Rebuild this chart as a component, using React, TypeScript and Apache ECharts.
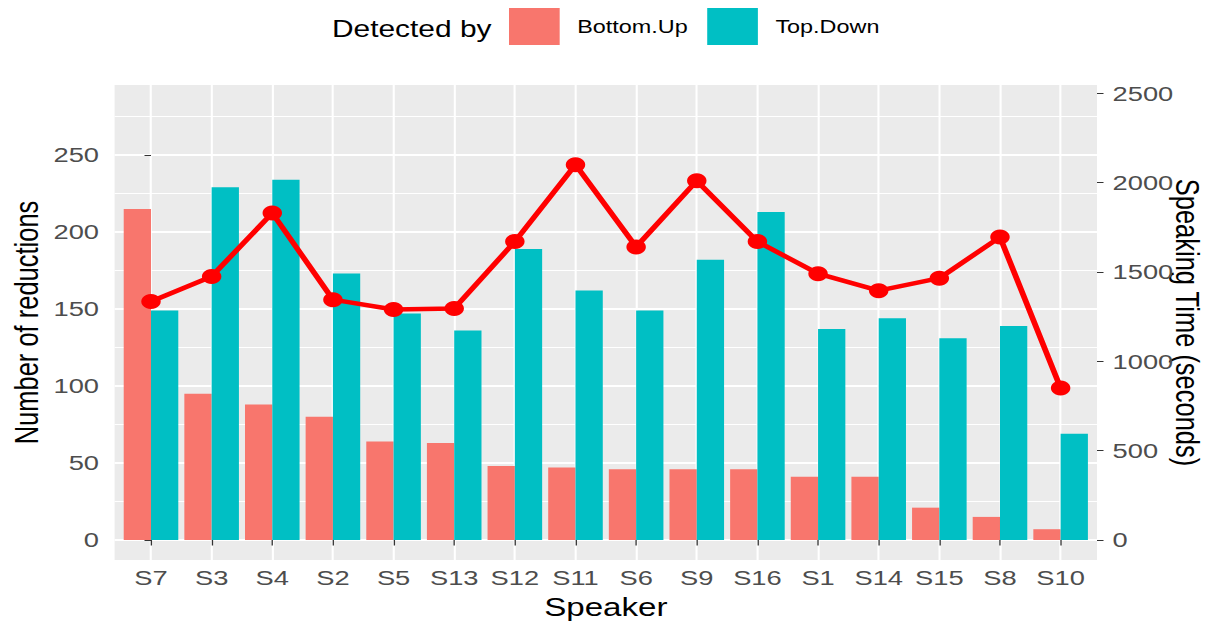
import React, { useEffect, useRef } from "react";
import * as echarts from "echarts";

const CATEGORIES = ["S7", "S3", "S4", "S2", "S5", "S13", "S12", "S11", "S6", "S9", "S16", "S1", "S14", "S15", "S8", "S10"];
const BOTTOM_UP = [215, 95, 88, 80, 64, 63, 48, 47, 46, 46, 46, 41, 41, 21, 15, 7];
const TOP_DOWN = [149, 229, 234, 173, 147, 136, 189, 162, 149, 182, 213, 137, 144, 131, 139, 69];
const SPEAKING_TIME = [1335, 1475, 1830, 1345, 1290, 1295, 1670, 2100, 1640, 2010, 1670, 1490, 1395, 1465, 1695, 850];
const LEFT_TICKS = [0, 50, 100, 150, 200, 250];
const LEFT_MINOR = [25, 75, 125, 175, 225, 275];
const RIGHT_TICKS = [0, 500, 1000, 1500, 2000, 2500];

const BASE_W = 935;
const H = 627;
const STRETCH = 1215 / BASE_W;

export default function App() {
  const ref = useRef<HTMLDivElement>(null);
  useEffect(() => {
    if (!ref.current) return;
    const chart = echarts.init(ref.current, null, { renderer: "svg" });
    const idx = CATEGORIES.map((_, i) => i);
    const font = "Liberation Sans";
    chart.setOption({
      animation: false,
      textStyle: { fontFamily: font },
      grid: {
        left: 88.2,
        right: BASE_W - 844.2,
        top: 85,
        bottom: H - 560,
        show: true,
        backgroundColor: "#EBEBEB",
        borderWidth: 0,
        containLabel: false,
        outerBoundsMode: "none",
      },
      legend: {
        data: ["Bottom.Up", "Top.Down"],
        left: 391.7,
        top: 8,
        padding: 0,
        itemWidth: 39,
        itemHeight: 37,
        itemGap: 15,
        icon: "rect",
        textStyle: { fontSize: 18, color: "#000", fontFamily: font, padding: [0, 0, 0, 8.5] },
      },
      graphic: [
        {
          type: "text",
          left: 255.5,
          top: 18,
          style: { text: "Detected by", fontSize: 23, fill: "#000", fontFamily: font },
        },
      ],
      xAxis: {
        type: "value",
        min: -0.6,
        max: 15.6,
        axisLine: { show: false },
        axisTick: { show: true, customValues: idx, length: 5.5, lineStyle: { color: "#333", width: 1 } },
        axisLabel: {
          customValues: idx,
          formatter: (v: number) => CATEGORIES[Math.round(v)] ?? "",
          fontSize: 21,
          color: "#4D4D4D",
          margin: 7,
        },
        splitLine: { show: true, lineStyle: { color: "#FFFFFF", width: 1.6 } },
        name: "Speaker",
        nameLocation: "middle",
        nameGap: 34,
        nameMoveOverlap: false,
        nameTextStyle: { fontSize: 25.5, color: "#000" },
      },
      yAxis: [
        {
          type: "value",
          position: "left",
          min: -12.99,
          max: 295.45,
          axisLine: { show: false },
          axisTick: { show: true, customValues: LEFT_TICKS, length: 5, lineStyle: { color: "#333", width: 1 } },
          axisLabel: { customValues: LEFT_TICKS, fontSize: 21, color: "#4D4D4D", margin: 12 },
          splitLine: { show: true, lineStyle: { color: "#FFFFFF", width: 2 } },
          name: "Number of reductions",
          nameLocation: "middle",
          nameGap: 55,
          nameMoveOverlap: false,
          nameTextStyle: { fontSize: 25.5, color: "#000" },
        },
        {
          type: "value",
          position: "right",
          min: -111.9,
          max: 2546,
          axisLine: { show: false },
          axisTick: { show: true, customValues: RIGHT_TICKS, length: 5, lineStyle: { color: "#333", width: 1 } },
          axisLabel: {
            customValues: RIGHT_TICKS,
            formatter: (v: number) => String(v),
            fontSize: 21,
            color: "#4D4D4D",
            margin: 12,
          },
          splitLine: { show: false },
          name: "Speaking Time (seconds)",
          nameLocation: "middle",
          nameRotate: -90,
          nameGap: 57,
          nameMoveOverlap: false,
          nameTextStyle: { fontSize: 25.5, color: "#000" },
        },
        {
          type: "value",
          position: "left",
          min: -12.99,
          max: 295.45,
          axisLine: { show: false },
          axisTick: { show: false, customValues: LEFT_MINOR },
          axisLabel: { show: false, customValues: LEFT_MINOR },
          splitLine: { show: true, lineStyle: { color: "#FFFFFF", width: 1 } },
        },
      ],
      series: [
        {
          name: "Bottom.Up",
          type: "bar",
          barWidth: 21,
          barGap: "0%",
          itemStyle: { color: "#F8766D" },
          data: BOTTOM_UP.map((v, i) => [i, v]),
        },
        {
          name: "Top.Down",
          type: "bar",
          barWidth: 21,
          barGap: "0%",
          itemStyle: { color: "#00BFC4" },
          data: TOP_DOWN.map((v, i) => [i, v]),
        },
        {
          name: "Speaking Time",
          type: "line",
          yAxisIndex: 1,
          symbol: "circle",
          symbolSize: 15,
          lineStyle: { color: "#FF0000", width: 4.5 },
          itemStyle: { color: "#FF0000" },
          data: SPEAKING_TIME.map((v, i) => [i, v]),
        },
      ],
    });
    return () => chart.dispose();
  }, []);
  return (
    <div
      style={{
        position: "absolute",
        left: 0,
        top: 0,
        width: BASE_W,
        height: H,
        transform: `scaleX(${STRETCH})`,
        transformOrigin: "0 0",
        background: "#fff",
      }}
    >
      <div ref={ref} style={{ width: BASE_W, height: H }} />
    </div>
  );
}
